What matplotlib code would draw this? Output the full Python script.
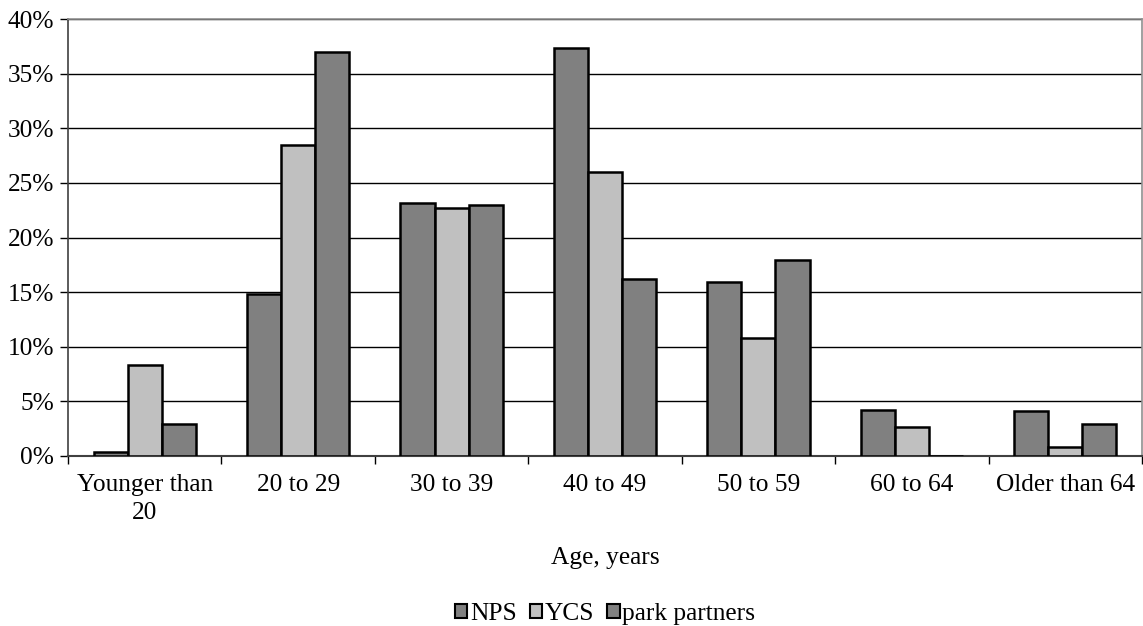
import matplotlib
matplotlib.use("Agg")
import matplotlib.pyplot as plt
import numpy as np

categories = ["Younger than\n20", "20 to 29", "30 to 39", "40 to 49", "50 to 59", "60 to 64", "Older than 64"]
series_names = ["NPS", "YCS", "park partners"]
nps = [0.4, 14.8, 23.2, 37.3, 15.9, 4.2, 4.1]
ycs = [8.3, 28.5, 22.7, 26.0, 10.8, 2.7, 0.8]
park_partners = [2.9, 37.0, 23.0, 16.2, 17.9, 0.0, 2.9]
y_ticks = [0, 5, 10, 15, 20, 25, 30, 35, 40]

colors = ["#808080", "#c0c0c0", "#808080"]
FS = 18.3

plt.rcParams['font.family'] = ['Liberation Serif', 'DejaVu Serif']

fig = plt.figure(figsize=(11.43, 6.26), dpi=100)
ax = fig.add_axes([68/1143, 1-456/626, (1142-68)/1143, (456-19)/626])

x = np.arange(len(categories))
w = 0.222
for i, (vals, c, name) in enumerate(zip([nps, ycs, park_partners], colors, series_names)):
    ax.bar(x + (i-1)*w, vals, width=w, color=c, edgecolor="black", linewidth=1.8,
           label=name, zorder=3)

ax.set_xlim(-0.5, len(categories)-0.5)
ax.set_ylim(0, 40)
ax.set_yticks(y_ticks)
ax.set_yticklabels([f"{v}%" for v in y_ticks], fontsize=FS)
ax.yaxis.grid(True, color="black", linewidth=1.0, zorder=0)
ax.set_axisbelow(True)

ax.set_xticks(x)
ax.set_xticklabels(categories, fontsize=FS, linespacing=1.35)
ax.tick_params(axis='x', length=0, pad=13)
ax.set_xticks(np.arange(len(categories)+1)-0.5, minor=True)
ax.tick_params(axis='x', which='minor', length=6, width=1, color="black")
ax.tick_params(axis='y', length=6, width=1, color="black", pad=4)

for s in ["top", "right"]:
    ax.spines[s].set_color("#909090")
    ax.spines[s].set_linewidth(1.2)
ax.spines["left"].set_color("#404040")
ax.spines["left"].set_linewidth(1.2)
ax.spines["bottom"].set_color("#404040")
ax.spines["bottom"].set_linewidth(1.5)

fig.text(605/1143, 1-564/626, "Age, years", fontsize=FS, ha="center", va="baseline")

leg = fig.legend(loc="center", bbox_to_anchor=(605/1143, 1-614/626), ncol=3, frameon=False,
                 fontsize=FS, handlelength=0.5, handleheight=0.5, handletextpad=0.1,
                 columnspacing=0.5, borderpad=0.0)
for h in leg.legend_handles:
    h.set_linewidth(1.5)

fig.savefig("out.png", dpi=100)
